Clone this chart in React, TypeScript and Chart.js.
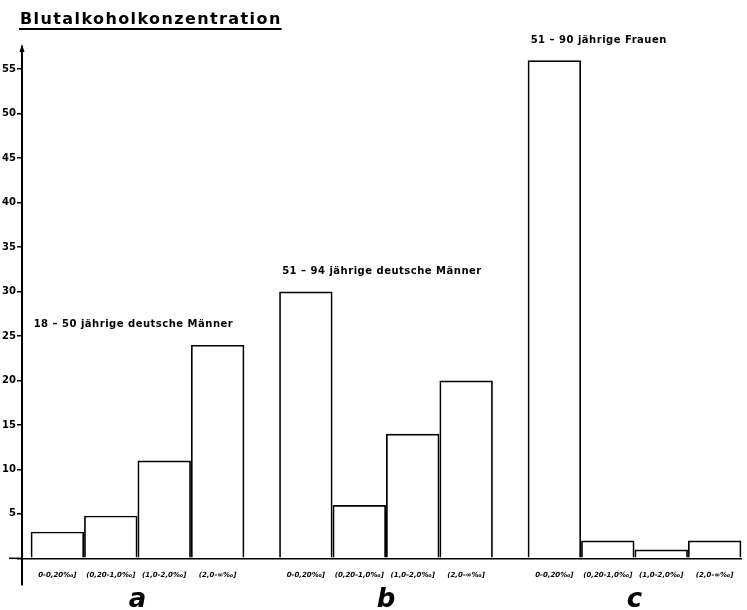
import React, { useEffect, useRef } from 'react';
import { Chart, registerables } from 'chart.js';

Chart.register(...registerables);

const title = 'Blutalkoholkonzentration';
const groups = ['a', 'b', 'c'];
const groupTitles = ['18 – 50 jährige deutsche Männer', '51 – 94 jährige deutsche Männer', '51 – 90 jährige Frauen'];
const classes = ['0-0,20‰]', '(0,20-1,0‰]', '(1,0-2,0‰]', '(2,0-∞‰]'];
const class1 = [3, 30, 56];
const class2 = [4.8, 6, 2];
const class3 = [11, 14, 1];
const class4 = [24, 20, 2];
const series = [class1, class2, class3, class4];

const decorPlugin = {
  id: 'decor',
  afterDraw(chart: any) {
    const { ctx, chartArea, scales } = chart;
    const y = scales.y;
    const y0 = y.getPixelForValue(0);
    ctx.save();
    ctx.fillStyle = '#000';
    ctx.strokeStyle = '#000';

    // title with underline
    ctx.font = 'bold 16px "DejaVu Sans"';
    (ctx as any).letterSpacing = '1.4px';
    ctx.textAlign = 'left';
    ctx.textBaseline = 'alphabetic';
    ctx.fillText(title, 20, 24);
    const w = ctx.measureText(title).width;
    ctx.fillRect(19, 28, w + 1, 2);
    (ctx as any).letterSpacing = '0px';

    // baseline overshoot left of the y axis
    ctx.lineWidth = 1.5;
    ctx.beginPath();
    ctx.moveTo(chartArea.left - 13, y0);
    ctx.lineTo(chartArea.left, y0);
    ctx.stroke();

    // arrow on y axis
    const l = chartArea.left;
    const t = chartArea.top;
    ctx.beginPath();
    ctx.moveTo(l, t - 3);
    ctx.lineTo(l - 2.5, t + 5);
    ctx.lineTo(l + 2.5, t + 5);
    ctx.closePath();
    ctx.fill();

    // class labels under each bar
    ctx.font = 'italic bold 7px "DejaVu Sans"';
    ctx.textAlign = 'center';
    ctx.textBaseline = 'middle';
    chart.data.datasets.forEach((ds: any, di: number) => {
      const meta = chart.getDatasetMeta(di);
      meta.data.forEach((el: any) => {
        ctx.fillText(ds.label, el.x, y0 + 17);
      });
    });

    // group titles
    ctx.font = 'bold 10px "DejaVu Sans"';
    (ctx as any).letterSpacing = '0.5px';
    ctx.textAlign = 'left';
    ctx.textBaseline = 'middle';
    groups.forEach((_g, gi) => {
      const first = chart.getDatasetMeta(0).data[gi];
      const leftX = first.x - first.width / 2;
      let top = Infinity;
      chart.data.datasets.forEach((_ds: any, di: number) => {
        top = Math.min(top, chart.getDatasetMeta(di).data[gi].y);
      });
      ctx.fillText(groupTitles[gi], leftX + 3, top - 20);
    });
    ctx.restore();
  },
};

export default function App() {
  const ref = useRef<HTMLCanvasElement | null>(null);
  useEffect(() => {
    if (!ref.current) return;
    const chart = new Chart(ref.current, {
      type: 'bar',
      data: {
        datasets: classes.map((label, i) => ({
          label,
          data: series[i].map((v, gi) => ({ x: gi, y: v })),
          backgroundColor: 'rgba(255,255,255,0)',
          borderColor: '#000',
          borderWidth: 1.7,
          categoryPercentage: 0.86,
          barPercentage: 1,
        })),
      },
      options: {
        animation: false,
        responsive: true,
        maintainAspectRatio: false,
        layout: { padding: { top: 47, right: 5, left: 0, bottom: 0 } },
        plugins: { legend: { display: false }, tooltip: { enabled: false }, title: { display: false } },
        scales: {
          x: {
            type: 'linear',
            offset: false,
            min: -0.4648,
            max: 2.4326,
            afterFit: (s: any) => {
              s.height = 25;
            },
            border: { display: false },
            grid: { display: false },
            ticks: {
              stepSize: 1,
              includeBounds: false,
              autoSkip: false,
              maxRotation: 0,
              padding: -8,
              color: '#000',
              font: { family: 'DejaVu Sans', size: 26, style: 'italic', weight: 'bold' },
              callback: (v: any) => groups[v] ?? '',
            },
          },
          y: {
            min: -3,
            max: 57.5,
            afterFit: (s: any) => {
              s.width = 22;
            },
            border: { display: true, color: '#000', width: 2 },
            grid: {
              drawOnChartArea: true,
              color: (c: any) => (c.tick && c.tick.value === 0 ? '#000' : 'rgba(0,0,0,0)'),
              lineWidth: 1.5,
              tickColor: '#000',
              tickLength: 5,
            },
            ticks: {
              stepSize: 5,
              includeBounds: false,
              padding: 1,
              color: '#000',
              font: { family: 'DejaVu Sans', size: 10, weight: 'bold' },
              callback: (v: any) => (v === 0 ? '' : String(v)),
            },
          },
        },
      },
      plugins: [decorPlugin],
    } as any);
    return () => chart.destroy();
  }, []);
  return (
    <div style={{ position: 'absolute', left: 0, top: 0, width: 747, height: 610, background: '#fff' }}>
      <canvas ref={ref} />
    </div>
  );
}
